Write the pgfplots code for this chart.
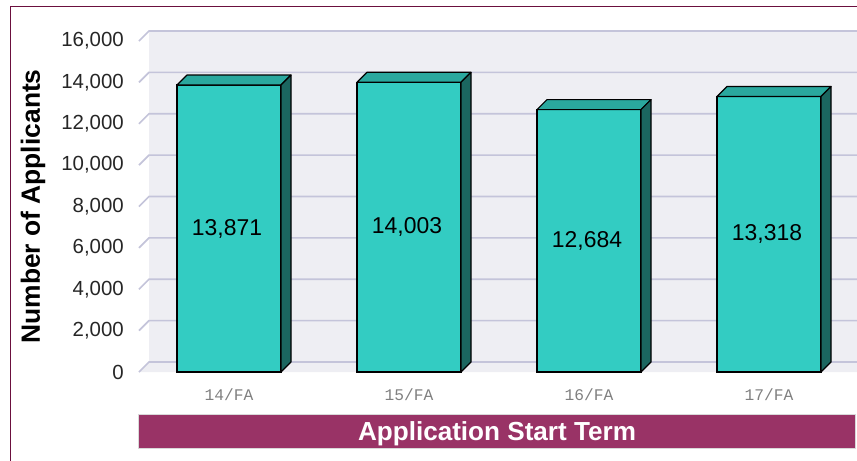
\documentclass[border=0pt]{standalone}
\usepackage{pgfplots}
\pgfplotsset{compat=1.18}
\usepackage{pgfplotstable}
\usepackage{fontspec}
\setmainfont{Liberation Sans}
\newfontfamily\monofont{Liberation Mono}
\definecolor{frontc}{HTML}{33CCC2}
\definecolor{topc}{HTML}{2AA89E}
\definecolor{sidec}{HTML}{1B6660}
\definecolor{wallc}{HTML}{EEEEF3}
\definecolor{gridc}{HTML}{C4C4DA}
\definecolor{bannerc}{HTML}{993366}
\definecolor{framec}{HTML}{6B0F3E}

\pgfplotstableread{
x y
0 13871
1 14003
2 12684
3 13318
}\apps

\begin{document}
\begin{tikzpicture}
\begin{axis}[
  at={(139bp,-372bp)}, anchor=south west,
  scale only axis, width=720bp, height=331bp,
  xmin=-0.5, xmax=3.5, ymin=0, ymax=16000,
  clip=false,
  axis line style={draw=none},
  major tick length=0pt,
  xtick={0,1,2,3},
  xticklabels={14/FA,15/FA,16/FA,17/FA},
  ytick={0,2000,4000,6000,8000,10000,12000,14000,16000},
  scaled y ticks=false,
  /pgf/number format/assume math mode=true,
  yticklabel style={anchor=east, inner sep=0pt, xshift=-15bp, font=\fontsize{20.5}{22}\selectfont, text=black!85},
  xticklabel style={anchor=base, inner sep=0pt, yshift=-28bp, font=\monofont\fontsize{16.3}{18}\selectfont, text=black!50},
  ylabel={Number of Applicants},
  xlabel={Application Start Term},
  every axis y label/.style={at={(axis description cs:-0.1472,0.5)}, anchor=center, rotate=90, font=\bfseries\fontsize{26.5}{28}\selectfont},
  every axis x label/.style={at={(axis description cs:0.49722,-0.17825)}, anchor=center, fill=bannerc, draw=black!15, line width=1bp, minimum width=716bp, minimum height=34bp, inner sep=0pt, text height=19bp, text depth=0bp, text=white, font=\bfseries\fontsize{26.2}{28}\selectfont},
]
% back wall and floor
\fill[wallc] (axis cs:-0.5,0) ++(10bp,10bp) rectangle ++(730bp,331bp);
\fill[wallc] (axis cs:-0.5,0) -- ++(10bp,10bp) -- ++(730bp,0bp) -- ++(-10bp,-10bp) -- cycle;
\pgfplotsinvokeforeach{0,2000,4000,6000,8000,10000,12000,14000,16000}{
  \draw[gridc, line width=1.6bp] (axis cs:-0.5,#1) -- ++(10bp,10bp) -- ++(730bp,0bp);
}
% front faces
\addplot[ybar, bar width=104bp, bar shift=0pt, fill=frontc, draw=black, line width=1.2bp] table[x=x,y=y]{\apps};
% top and side faces
\addplot[scatter, only marks, mark=*, mark size=0pt,
  visualization depends on={rawy \as \barval},
  scatter/@pre marker code/.code={%
    \pgfmathsetmacro\hh{\barval/16000*331}%
    \pgfmathsetmacro\hb{10-\hh}%
    \pgfmathsetmacro\hf{-\hh}%
    \filldraw[fill=topc, draw=black, line width=1.2bp, line join=round] (-52bp,0bp) -- (52bp,0bp) -- (62bp,10bp) -- (-42bp,10bp) -- cycle;
    \filldraw[fill=sidec, draw=black, line width=1.2bp, line join=round] (52bp,0bp) -- (62bp,10bp) -- (62bp,\hb bp) -- (52bp,\hf bp) -- cycle;
  },
  scatter/@post marker code/.code={},
] table[x=x,y=y]{\apps};
% value labels
\addplot[draw=none, mark=none, point meta=explicit, nodes near coords,
  every node near coord/.style={anchor=center, xshift=-2bp, font=\fontsize{23}{24}\selectfont, text=black}]
  table[x=x, y expr=\thisrow{y}/2, meta=y]{\apps};
\end{axis}
\draw[framec, line width=1.3bp] (10.5bp,-480bp) -- (10.5bp,-6.5bp) -- (880bp,-6.5bp);
\pgfresetboundingbox
\useasboundingbox (0,0) rectangle (857bp,-461bp);
\end{tikzpicture}
\end{document}
